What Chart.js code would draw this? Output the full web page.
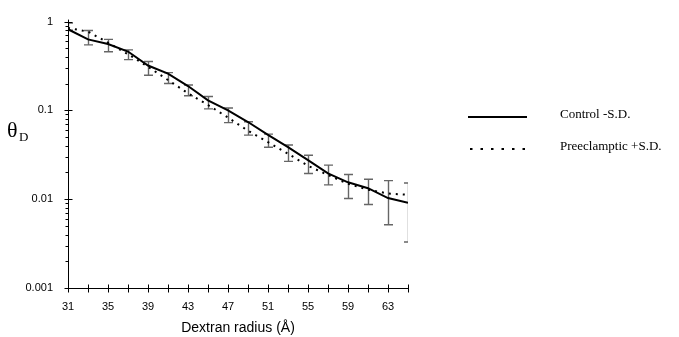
<!DOCTYPE html>
<html><head><meta charset="utf-8">
<script src="https://cdn.jsdelivr.net/npm/chart.js@4/dist/chart.umd.min.js"></script>
<style>html,body{margin:0;padding:0;background:#fff;}canvas{display:block;}</style>
</head><body>
<canvas id="c" width="679" height="337"></canvas>
<script>
const radius = [31,33,35,37,39,41,43,45,47,49,51,53,55,57,59,61,63,65];
const control = [0.82,0.63,0.56,0.46,0.32,0.26,0.188,0.13,0.10,0.074,0.053,0.0385,0.0275,0.0195,0.0155,0.0133,0.0103,0.0091];
const preeclamptic = [0.85,0.77,0.58,0.43,0.31,0.22,0.156,0.115,0.083,0.059,0.044,0.0325,0.0238,0.0187,0.0149,0.0128,0.0116,0.0112];
const controlMinusSD = [0.80,0.547,0.458,0.373,0.249,0.201,0.146,0.104,0.0728,0.0527,0.0385,0.0267,0.0195,0.0145,0.0102,0.0087,0.00516,0.00329];
const preeclampticPlusSD = [0.96,0.795,0.63,0.48,0.355,0.266,0.193,0.1435,0.1066,0.0746,0.054,0.0408,0.0312,0.0242,0.019,0.0168,0.0162,0.0152];
const xTickValues = [31,33,35,37,39,41,43,45,47,49,51,53,55,57,59,61,63,65];
const xTickLabels = ['31','','35','','39','','43','','47','','51','','55','','59','','63',''];
const yTickValues = [0.001,0.01,0.1,1];
const yTickLabels = ['0.001','0.01','0.1','1'];
const seriesNames = ['Control -S.D.','Preeclamptic +S.D.'];
const xTitle = 'Dextran radius (Å)';

const decor = {
  id: 'decor',
  beforeDatasetsDraw(chart) {
    const {ctx, chartArea: a, scales: {x, y}} = chart;
    ctx.save();
    ctx.beginPath();
    ctx.rect(a.left, a.top - 2, a.right - a.left, a.bottom - a.top + 4);
    ctx.clip();
    ctx.strokeStyle = '#666';
    ctx.lineWidth = 1.4;
    radius.forEach((r, i) => {
      const px = Math.round(x.getPixelForValue(r)) + 0.5;
      const t = y.getPixelForValue(preeclampticPlusSD[i]);
      const b = y.getPixelForValue(controlMinusSD[i]);
      ctx.beginPath();
      ctx.moveTo(px, t); ctx.lineTo(px, b);
      ctx.moveTo(px - 4.5, t); ctx.lineTo(px + 4.5, t);
      ctx.moveTo(px - 4.5, b); ctx.lineTo(px + 4.5, b);
      ctx.stroke();
    });
    ctx.restore();
  },
  afterDatasetsDraw(chart) {
    const {ctx, chartArea: a, scales: {x, y}} = chart;
    ctx.save();
    ctx.strokeStyle = '#000';
    ctx.lineWidth = 1;
    const ax = Math.round(a.left) + 0.5;
    const ay = Math.round(a.bottom) + 0.5;
    ctx.beginPath();
    ctx.moveTo(ax, a.top - 2); ctx.lineTo(ax, ay);
    ctx.lineTo(a.right, ay);
    ctx.stroke();
    ctx.beginPath();
    yTickValues.forEach(v => {
      const py = Math.round(y.getPixelForValue(v)) + 0.5;
      ctx.moveTo(ax - 4, py); ctx.lineTo(ax + 4, py);
    });
    for (let d = 0; d < yTickValues.length - 1; d++) {
      for (let m = 2; m <= 9; m++) {
        const py = Math.round(y.getPixelForValue(m * yTickValues[d])) + 0.5;
        ctx.moveTo(ax - 3, py); ctx.lineTo(ax, py);
      }
    }
    xTickValues.forEach(v => {
      const px = Math.round(x.getPixelForValue(v)) + 0.5;
      ctx.moveTo(px, ay - 4); ctx.lineTo(px, ay + 4);
    });
    ctx.stroke();
    ctx.restore();
  },
  afterDraw(chart) {
    const ctx = chart.ctx;
    ctx.save();
    ctx.strokeStyle = '#000';
    ctx.lineWidth = 2;
    ctx.beginPath();
    ctx.moveTo(468, 117); ctx.lineTo(527, 117);
    ctx.stroke();
    ctx.lineWidth = 2.2;
    ctx.setLineDash([2.5, 8]);
    ctx.beginPath();
    ctx.moveTo(470, 149); ctx.lineTo(530, 149);
    ctx.stroke();
    ctx.setLineDash([]);
    ctx.fillStyle = '#000';
    ctx.font = '13px "Liberation Serif", "Times New Roman", serif';
    ctx.textBaseline = 'middle';
    ctx.textAlign = 'left';
    ctx.fillText(seriesNames[0], 560, 115);
    ctx.fillText(seriesNames[1], 560, 147);
    ctx.font = '22px "Liberation Serif", "Times New Roman", serif';
    ctx.textBaseline = 'alphabetic';
    ctx.fillText('θ', 7, 137);
    ctx.font = '13px "Liberation Serif", "Times New Roman", serif';
    ctx.fillText('D', 19, 141);
    ctx.restore();
  }
};

new Chart(document.getElementById('c'), {
  type: 'line',
  data: {
    datasets: [
      {
        label: seriesNames[0],
        data: radius.map((r, i) => ({x: r, y: control[i]})),
        borderColor: '#000', borderWidth: 2, pointRadius: 0, tension: 0, fill: false
      },
      {
        label: seriesNames[1],
        data: radius.map((r, i) => ({x: r, y: preeclamptic[i]})),
        borderColor: '#000', borderWidth: 2, borderDash: [2, 5], pointRadius: 0, tension: 0, fill: false
      }
    ]
  },
  options: {
    responsive: false,
    animation: false,
    devicePixelRatio: 1,
    layout: {padding: {left: 0, top: 17, right: 271, bottom: 0}},
    plugins: {legend: {display: false}, tooltip: {enabled: false}},
    scales: {
      x: {
        type: 'linear', min: 31, max: 65,
        afterBuildTicks: s => { s.ticks = xTickValues.map(v => ({value: v})); },
        afterFit: s => { s.height = 49; },
        grid: {display: false, drawTicks: false},
        border: {display: false},
        ticks: {
          autoSkip: false, maxRotation: 0, padding: 12, color: '#000',
          font: {family: '"Liberation Sans", Arial, sans-serif', size: 11},
          callback: (v, i) => xTickLabels[xTickValues.indexOf(v)] ?? ''
        },
        title: {
          display: true, text: xTitle, color: '#000',
          font: {family: '"Liberation Sans", Arial, sans-serif', size: 14},
          padding: {top: 0, bottom: 0}
        }
      },
      y: {
        type: 'logarithmic', min: 0.001, max: 1,
        afterBuildTicks: s => { s.ticks = yTickValues.map(v => ({value: v})); },
        afterFit: s => { s.width = 68; },
        grid: {display: false, drawTicks: false},
        border: {display: false},
        ticks: {
          autoSkip: false, padding: 15, color: '#000',
          font: {family: '"Liberation Sans", Arial, sans-serif', size: 11},
          callback: (v) => { const k = yTickValues.findIndex(t => Math.abs(t - v) < t * 1e-6); return k >= 0 ? yTickLabels[k] : ''; }
        }
      }
    }
  },
  plugins: [decor]
});
</script>
</body></html>
